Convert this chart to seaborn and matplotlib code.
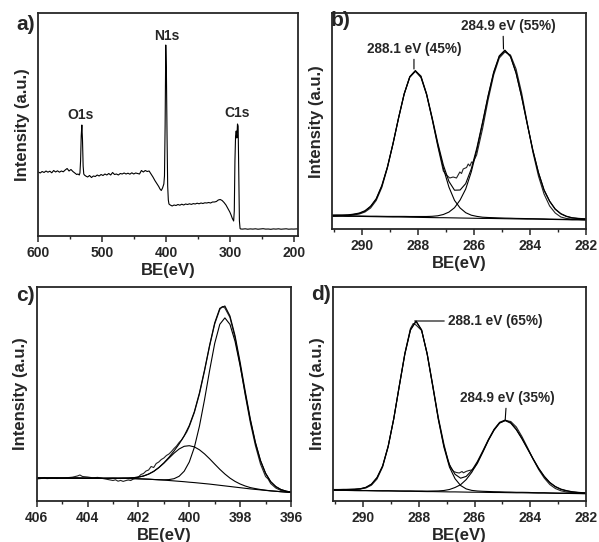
import numpy as np
import pandas as pd
import matplotlib
matplotlib.use("Agg")
import matplotlib.pyplot as plt
import seaborn as sns
from matplotlib.ticker import MultipleLocator

# ---------------- panel a: survey spectrum ----------------
survey_be = [
    600, 597, 594, 591, 588, 585, 582, 579, 576, 573,
    570, 567, 564, 561, 558, 555, 552, 549, 546, 543,
    540, 538, 536, 535, 534, 533, 532, 531, 530, 529,
    528, 526, 523, 520, 517, 514, 511, 508, 505, 502,
    499, 496, 493, 490, 487, 484, 481, 478, 475, 472,
    469, 466, 463, 460, 457, 454, 451, 448, 445, 442,
    439, 436, 433, 430, 427, 424, 421, 418, 415, 412,
    410, 408, 406, 405, 404, 403, 402, 401, 400, 399,
    398, 397, 396, 394, 391, 388, 385, 382, 379, 376,
    373, 370, 367, 364, 361, 358, 355, 352, 349, 346,
    343, 340, 337, 334, 331, 328, 325, 322, 319, 316,
    313, 310, 307, 304, 301, 299, 297, 295, 294, 293,
    292, 291, 290, 289, 288, 287, 286, 285, 284, 281,
    277, 273, 269, 265, 261, 257, 253, 249, 245, 241,
    237, 233, 229, 225, 221, 217, 213, 209, 205, 201,
    197, 193, 190,
]
survey_int = [
    64.0, 63.0, 64.5, 63.5, 65.0, 63.8, 64.8, 63.2, 65.5, 64.0,
    65.2, 63.8, 65.0, 64.2, 66.0, 67.5, 65.0, 66.5, 64.5, 63.0,
    61.5, 62.0, 61.0, 63.0, 75.0, 100.0, 111.0, 96.0, 70.0, 62.0,
    61.0, 60.0, 59.0, 60.5, 58.5, 60.0, 59.5, 61.0, 60.0, 61.5,
    60.5, 62.0, 61.0, 62.5, 61.0, 63.5, 61.5, 62.0, 61.0, 62.5,
    62.0, 63.0, 62.0, 62.8, 61.8, 63.2, 62.0, 63.0, 62.5, 62.0,
    65.5, 64.0, 65.5, 64.5, 65.0, 62.0, 59.0, 55.5, 52.5, 49.5,
    47.0, 45.5, 48.0, 50.0, 52.0, 60.0, 110.0, 191.0, 165.0, 100.0,
    50.0, 36.0, 32.0, 31.0, 30.0, 31.0, 30.5, 31.5, 30.8, 31.8,
    31.0, 32.0, 31.5, 32.2, 31.6, 32.4, 32.0, 32.8, 32.2, 33.0,
    32.5, 33.2, 33.0, 33.5, 33.0, 34.0, 34.0, 34.5, 36.0, 36.5,
    35.5, 33.5, 31.0, 27.5, 24.0, 21.0, 17.5, 15.0, 25.0, 75.0,
    100.0, 105.0, 98.0, 112.0, 110.0, 60.0, 15.0, 7.5, 7.0, 6.9,
    7.2, 6.8, 7.1, 6.9, 7.2, 6.8, 7.0, 7.3, 6.9, 7.0,
    6.7, 7.1, 6.9, 7.2, 6.8, 7.0, 7.2, 6.8, 7.0, 6.9,
    7.1, 6.9, 7.0,
]
survey_peaks = ["O1s", "N1s", "C1s"]

# ---------------- panels b and d: C1s ----------------
c1s_be = [
    291.1, 290.9, 290.7, 290.5, 290.3, 290.1, 289.9, 289.7, 289.5, 289.3,
    289.1, 288.9, 288.7, 288.5, 288.3, 288.1, 287.9, 287.7, 287.5, 287.3,
    287.1, 286.9, 286.7, 286.5, 286.3, 286.1, 285.9, 285.7, 285.5, 285.3,
    285.1, 284.9, 284.7, 284.5, 284.3, 284.1, 283.9, 283.7, 283.5, 283.3,
    283.1, 282.9, 282.7, 282.5, 282.3, 282.1, 281.9,
]
bg_b = [
    13.0, 12.9, 12.8, 12.7, 12.7, 12.6, 12.5, 12.4, 12.3, 12.2,
    12.1, 12.0, 12.0, 11.9, 11.8, 11.7, 11.6, 11.5, 11.4, 11.3,
    11.3, 11.2, 11.1, 11.0, 10.9, 10.8, 10.7, 10.6, 10.6, 10.5,
    10.4, 10.3, 10.2, 10.1, 10.0, 9.9, 9.9, 9.8, 9.7, 9.6,
    9.5, 9.4, 9.3, 9.2, 9.2, 9.1, 9.0,
]
peak288_b = [
    0.7, 0.8, 0.9, 1.2, 1.9, 3.0, 5.4, 10.0, 17.5, 30.7,
    49.5, 73.0, 98.8, 122.8, 139.9, 146.0, 139.9, 122.8, 98.8, 73.0,
    49.5, 30.7, 17.5, 10.0, 5.4, 3.0, 1.9, 1.2, 0.9, 0.8,
    0.7, 0.6, 0.6, 0.5, 0.5, 0.5, 0.4, 0.4, 0.4, 0.3,
    0.3, 0.3, 0.3, 0.2, 0.2, 0.2, 0.2,
]
peak285_b = [
    0.2, 0.3, 0.3, 0.3, 0.3, 0.4, 0.4, 0.4, 0.5, 0.5,
    0.5, 0.6, 0.6, 0.7, 0.7, 0.8, 0.9, 1.0, 1.3, 1.9,
    3.2, 5.7, 10.2, 18.0, 29.1, 46.4, 68.7, 94.8, 121.8, 145.7,
    162.1, 168.0, 162.1, 145.7, 121.8, 94.8, 68.7, 46.4, 29.1, 18.0,
    10.2, 5.7, 3.2, 1.9, 1.3, 1.0, 0.9,
]
raw_b_be = [
    291.1, 290.9, 290.7, 290.5, 290.3, 290.1, 289.9, 289.7, 289.5, 289.3,
    289.1, 288.9, 288.7, 288.5, 288.3, 288.1, 287.9, 287.7, 287.5, 287.3,
    287.1, 286.99, 286.87, 286.75, 286.63, 286.57, 286.51, 286.45, 286.39, 286.27,
    286.21, 286.15, 286.09, 286.04, 285.98, 285.91, 285.7, 285.5, 285.3, 285.1,
    284.9, 284.7, 284.5, 284.3, 284.1, 283.9, 283.7, 283.5, 283.3, 283.1,
    282.9, 282.7, 282.5, 282.3, 282.1, 281.9,
]
raw_b_int = [
    12.6, 12.8, 13.5, 13.2, 14.0, 15.0, 17.0, 21.0, 28.5, 41.5,
    61.0, 85.0, 111.0, 135.0, 152.0, 158.0, 153.0, 135.0, 110.0, 83.0,
    58.0, 54.0, 51.0, 52.0, 51.0, 54.0, 57.0, 55.5, 60.0, 61.5,
    65.0, 63.0, 67.0, 66.5, 70.0, 74.0, 100.0, 129.0, 154.0, 171.0,
    177.0, 174.0, 160.0, 136.0, 106.0, 77.0, 53.0, 35.0, 23.0, 16.0,
    12.0, 10.5, 10.0, 9.6, 9.4, 9.3,
]

bg_d = [
    10.7, 10.6, 10.6, 10.5, 10.4, 10.3, 10.3, 10.2, 10.1, 10.0,
    10.0, 9.9, 9.8, 9.7, 9.7, 9.6, 9.5, 9.4, 9.4, 9.3,
    9.2, 9.1, 9.1, 9.0, 8.9, 8.8, 8.8, 8.7, 8.6, 8.5,
    8.5, 8.4, 8.3, 8.2, 8.2, 8.1, 8.0, 7.9, 7.9, 7.8,
    7.7, 7.6, 7.6, 7.5, 7.4, 7.3, 7.3,
]
peak288_d = [
    0.7, 0.8, 0.9, 1.0, 1.2, 1.8, 3.2, 6.5, 13.2, 24.8,
    44.7, 72.2, 105.1, 137.2, 161.2, 170.0, 161.2, 137.2, 105.1, 72.2,
    44.7, 24.8, 13.2, 6.5, 3.2, 1.8, 1.2, 1.0, 0.9, 0.8,
    0.7, 0.6, 0.6, 0.5, 0.5, 0.5, 0.4, 0.4, 0.4, 0.3,
    0.3, 0.3, 0.3, 0.2, 0.2, 0.2, 0.2,
]
peak285_d = [
    0.1, 0.1, 0.1, 0.1, 0.1, 0.2, 0.2, 0.2, 0.2, 0.3,
    0.3, 0.3, 0.3, 0.4, 0.4, 0.4, 0.5, 0.5, 0.6, 0.8,
    1.3, 2.4, 4.4, 7.3, 12.5, 19.9, 29.4, 40.6, 52.2, 62.4,
    69.5, 72.0, 69.5, 63.0, 54.0, 44.0, 34.0, 24.5, 16.5, 10.5,
    6.5, 4.0, 2.5, 1.6, 1.1, 0.8, 0.6,
]
raw_d_be = [
    291.1, 290.9, 290.7, 290.5, 290.3, 290.1, 289.9, 289.7, 289.5, 289.3,
    289.1, 288.9, 288.7, 288.5, 288.3, 288.2, 288.1, 287.9, 287.7, 287.5,
    287.3, 287.1, 286.95, 286.85, 286.75, 286.65, 286.55, 286.45, 286.4, 286.3,
    286.2, 286.1, 286.0, 285.9, 285.7, 285.5, 285.3, 285.1, 284.9, 284.7,
    284.5, 284.3, 284.1, 283.9, 283.7, 283.5, 283.3, 283.1, 282.9, 282.7,
    282.5, 282.3, 282.1, 281.9,
]
raw_d_int = [
    11.2, 11.4, 11.3, 11.6, 11.8, 12.0, 13.0, 15.8, 22.0, 34.0,
    54.0, 82.0, 115.5, 148.0, 172.5, 177.5, 176.0, 170.5, 147.5, 116.0,
    83.5, 57.0, 40.0, 33.0, 29.5, 28.5, 28.0, 29.5, 28.2, 29.6,
    30.5, 31.0, 33.5, 37.5, 49.0, 61.0, 71.0, 78.0, 80.5, 79.5,
    74.0, 64.5, 53.5, 42.0, 31.5, 23.0, 16.5, 12.5, 10.2, 9.0,
    8.4, 8.0, 7.8, 7.7,
]

# ---------------- panel c: N1s ----------------
n1s_be = [
    406.0, 405.8, 405.6, 405.4, 405.2, 405.0, 404.8, 404.6, 404.4, 404.2,
    404.0, 403.8, 403.6, 403.4, 403.2, 403.0, 402.8, 402.6, 402.4, 402.2,
    402.0, 401.8, 401.6, 401.4, 401.2, 401.0, 400.8, 400.6, 400.4, 400.2,
    400.0, 399.8, 399.6, 399.4, 399.2, 399.0, 398.8, 398.6, 398.4, 398.2,
    398.0, 397.8, 397.6, 397.4, 397.2, 397.0, 396.8, 396.6, 396.4, 396.2,
    396.0,
]
bg_c = [
    23.0, 23.0, 23.0, 23.0, 23.0, 22.9, 22.9, 22.9, 22.9, 22.8,
    22.8, 22.8, 22.8, 22.7, 22.7, 22.7, 22.6, 22.6, 22.5, 22.4,
    22.2, 22.0, 21.8, 21.5, 21.2, 20.9, 20.5, 20.1, 19.7, 19.3,
    18.8, 18.4, 17.9, 17.4, 16.9, 16.3, 15.7, 15.1, 14.5, 13.9,
    13.3, 12.7, 12.1, 11.6, 11.1, 10.6, 10.1, 9.7, 9.3, 8.9,
    8.5,
]
peak398_c = [
    0.0, 0.0, 0.0, 0.0, 0.0, 0.0, 0.0, 0.0, 0.0, 0.0,
    0.0, 0.0, 0.0, 0.0, 0.0, 0.0, 0.0, 0.0, 0.0, 0.0,
    0.0, 0.0, 0.0, 0.0, 0.1, 0.3, 0.9, 2.2, 5.0, 10.5,
    20.2, 35.3, 57.0, 84.0, 113.7, 141.3, 161.0, 168.0, 162.1, 145.7,
    121.8, 94.8, 68.7, 46.4, 29.1, 17.0, 9.2, 4.7, 2.2, 1.0,
    0.4,
]
peak400_c = [
    0.0, 0.0, 0.0, 0.0, 0.0, 0.0, 0.0, 0.0, 0.0, 0.0,
    0.0, 0.0, 0.0, 0.0, 0.0, 0.1, 0.2, 0.3, 0.5, 0.9,
    1.7, 3.0, 5.1, 8.1, 12.1, 16.9, 22.3, 27.7, 32.3, 35.4,
    36.5, 35.7, 33.3, 29.7, 25.3, 20.6, 16.0, 11.9, 8.4, 5.7,
    3.7, 2.3, 1.3, 0.8, 0.4, 0.2, 0.1, 0.1, 0.0, 0.0,
    0.0,
]
raw_c_be = [
    406.0, 405.8, 405.7, 405.6, 405.4, 405.2, 405.0, 404.8, 404.6, 404.4,
    404.3, 404.2, 404.0, 403.8, 403.6, 403.4, 403.2, 403.0, 402.9, 402.8,
    402.7, 402.6, 402.5, 402.4, 402.3, 402.2, 402.1, 402.0, 401.9, 401.8,
    401.7, 401.6, 401.5, 401.4, 401.3, 401.2, 401.1, 401.0, 400.9, 400.8,
    400.7, 400.6, 400.5, 400.4, 400.3, 400.2, 400.1, 400.0, 399.8, 399.6,
    399.4, 399.2, 399.0, 398.8, 398.7, 398.6, 398.4, 398.2, 398.0, 397.8,
    397.6, 397.4, 397.2, 397.0, 396.9, 396.8, 396.6, 396.4, 396.2, 396.0,
]
raw_c_int = [
    22.0, 22.6, 23.5, 22.4, 22.8, 22.5, 23.0, 23.3, 23.8, 25.0,
    26.0, 24.5, 24.0, 23.2, 23.6, 22.5, 21.5, 20.5, 21.2, 19.8,
    20.6, 19.6, 20.4, 21.0, 20.5, 22.0, 22.8, 24.0, 26.5, 27.5,
    30.0, 31.0, 34.5, 33.5, 37.5, 39.0, 41.5, 43.0, 45.5, 47.0,
    49.5, 52.5, 55.0, 58.5, 61.0, 65.0, 69.0, 74.5, 88.5, 107.0,
    130.0, 155.0, 177.0, 191.5, 194.5, 193.0, 183.5, 163.0, 136.0, 106.0,
    78.5, 55.5, 37.0, 24.5, 22.0, 17.5, 13.0, 10.5, 9.5, 9.0,
]

sns.set_style("ticks")
plt.rcParams['font.family'] = ['Liberation Sans', 'DejaVu Sans']
plt.rcParams['font.weight'] = 'bold'
plt.rcParams['axes.labelweight'] = 'bold'
plt.rcParams['axes.linewidth'] = 1.3
plt.rcParams['xtick.major.width'] = 1.1
plt.rcParams['xtick.minor.width'] = 1.0

W, H = 599, 542
fig = plt.figure(figsize=(W / 100, H / 100), dpi=100)


def px_axes(left, top, right, bottom):
    return fig.add_axes([left / W, 1 - bottom / H, (right - left) / W, (bottom - top) / H])


def line(ax, x, y, lw=0.8, color='black'):
    sns.lineplot(x=x, y=y, ax=ax, color=color, lw=lw, sort=False, estimator=None)


def style(ax, xlim, ylim, major, minor):
    ax.set_xlim(*xlim)
    ax.set_ylim(*ylim)
    ax.xaxis.set_major_locator(MultipleLocator(major))
    ax.xaxis.set_minor_locator(MultipleLocator(minor))
    ax.tick_params(axis='x', which='major', direction='out', length=4, pad=3.5,
                   labelsize=10, top=False)
    ax.tick_params(axis='x', which='minor', direction='out', length=2.2, top=False)
    ax.tick_params(axis='y', left=False, right=False, labelleft=False)
    for lab in ax.get_xticklabels():
        lab.set_fontweight('bold')
    ax.set_xlabel('BE(eV)', fontsize=12, fontweight='bold', labelpad=2)
    ax.set_ylabel('Intensity (a.u.)', fontsize=12, fontweight='bold', labelpad=6)


def draw_fit(ax, be, bg, comps, raw_be, raw_int):
    bg = np.array(bg)
    env = bg.copy()
    line(ax, raw_be, raw_int, lw=0.8, color='#222222')
    for c in comps:
        c = np.array(c)
        line(ax, be, bg + c)
        env = env + c
    line(ax, be, env)
    line(ax, be, bg)


# a) survey
ax_a = px_axes(38.3, 13.3, 297.7, 236)
line(ax_a, survey_be, survey_int, lw=0.8)
style(ax_a, (600, 195), (0, 222.7), 100, 50)
for name, xx, yy in zip(survey_peaks, [534.5, 399.4, 289.0], [121, 200, 123]):
    ax_a.text(xx, yy, name, ha='center', va='center', fontsize=10, fontweight='bold')

# b) C1s
ax_b = px_axes(332, 13.3, 586, 229)
draw_fit(ax_b, c1s_be, bg_b, [peak288_b, peak285_b], raw_b_be, raw_b_int)
style(ax_b, (291.08, 282), (0, 215.7), 2, 1)
ann = dict(arrowstyle='-', color='black', lw=0.8, shrinkA=0, shrinkB=0)
ax_b.annotate('288.1 eV (45%)', xy=(288.15, 160), xytext=(288.15, 173),
              ha='center', va='bottom', fontsize=9.8, fontweight='bold',
              arrowprops=dict(ann, relpos=(0.5, 0)))
ax_b.annotate('284.9 eV (55%)', xy=(284.95, 180), xytext=(284.76, 196),
              ha='center', va='bottom', fontsize=9.8, fontweight='bold',
              arrowprops=dict(ann, relpos=(0.44, 0)))

# c) N1s
ax_c = px_axes(36.7, 287, 291, 501)
draw_fit(ax_c, n1s_be, bg_c, [peak398_c, peak400_c], raw_c_be, raw_c_int)
style(ax_c, (406, 396), (0, 214), 2, 1)

# d) C1s
ax_d = px_axes(333, 286.7, 586, 501)
draw_fit(ax_d, c1s_be, bg_d, [peak288_d, peak285_d], raw_d_be, raw_d_int)
style(ax_d, (291.08, 282), (0, 214.3), 2, 1)
ax_d.annotate('288.1 eV (65%)', xy=(288.15, 180), xytext=(286.97, 180),
              ha='left', va='center', fontsize=9.8, fontweight='bold',
              arrowprops=dict(ann, relpos=(0, 0.5)))
ax_d.annotate('284.9 eV (35%)', xy=(284.9, 81), xytext=(284.83, 96),
              ha='center', va='bottom', fontsize=9.8, fontweight='bold',
              arrowprops=dict(ann, relpos=(0.49, 0)))

for lab, (px, py) in zip(['a)', 'b)', 'c)', 'd)'],
                         [(25.5, 24.5), (341, 21), (25, 295.5), (321, 295)]):
    fig.text(px / W, 1 - py / H, lab, ha='center', va='center', fontsize=15,
             fontweight='bold')

fig.savefig('out.png', dpi=100)
